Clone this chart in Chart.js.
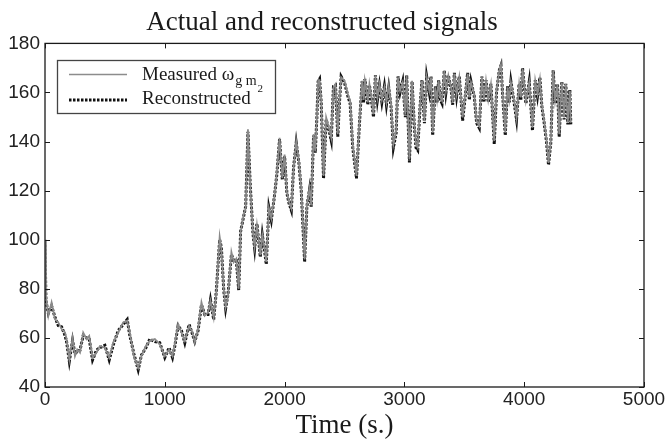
<!DOCTYPE html>
<html>
<head>
<meta charset="utf-8">
<script src="https://cdn.jsdelivr.net/npm/chart.js@4.4.1/dist/chart.umd.min.js"></script>
<style>
  html, body { margin: 0; padding: 0; background: #fff; }
  #plot { display: block; }
</style>
</head>
<body>
<canvas id="plot" width="669" height="439"></canvas>
<script>
// time axis (s.)
let timeSec = [
  0, 8, 28, 55, 83, 111, 139, 167, 180, 203,
  230, 250, 269, 292, 319, 347, 369, 397, 430, 458,
  500, 536, 569, 611, 653, 686, 708, 742, 778, 805,
  842, 875, 917, 958, 1000, 1036, 1064, 1083, 1111, 1139,
  1167, 1203, 1231, 1250, 1278, 1306, 1333, 1361, 1381, 1408,
  1430, 1458, 1472, 1492, 1508, 1528, 1556, 1575, 1597, 1617,
  1633, 1658, 1675, 1694, 1714, 1736, 1750, 1769, 1786, 1797,
  1814, 1833, 1847, 1869, 1889, 1917, 1936, 1958, 1981, 2000,
  2019, 2036, 2056, 2075, 2097, 2119, 2139, 2167, 2186, 2208,
  2222, 2242, 2256, 2270, 2280, 2292, 2306, 2325, 2347, 2369,
  2389, 2408, 2425, 2444, 2458, 2472, 2500, 2528, 2547, 2569,
  2600, 2625, 2647, 2660, 2670, 2681, 2695, 2708, 2725, 2742,
  2758, 2775, 2792, 2812, 2833, 2850, 2869, 2889, 2908, 2931,
  2947, 2964, 2986, 3008, 3019, 3042, 3064, 3083, 3097, 3111,
  3131, 3147, 3167, 3186, 3208, 3222, 3236, 3258, 3272, 3286,
  3300, 3314, 3333, 3347, 3367, 3389, 3403, 3417, 3436, 3458,
  3486, 3508, 3528, 3542, 3556, 3583, 3603, 3625, 3647, 3664,
  3681, 3700, 3722, 3750, 3769, 3792, 3806, 3819, 3842, 3861,
  3875, 3889, 3917, 3936, 3958, 3972, 3986, 4014, 4042, 4069,
  4092, 4111, 4131, 4147, 4167, 4186, 4203, 4222, 4242, 4258,
  4278, 4292, 4314, 4333, 4347, 4364, 4381, 4389
];

let measured = [
  100, 77, 69, 74.5, 67.7, 66.3, 63.6, 62.2, 59.5, 51.2,
  60.1, 52.6, 55.3, 54, 62.2, 59.5, 60.8, 51.9, 54, 56.7,
  56, 51.9, 58.1, 62.2, 66.3, 67, 62.2, 52.6, 47.8, 52.6,
  56.7, 58.8, 59.5, 57.4, 52.6, 55.3, 52.6, 57.4, 65.6, 62.2,
  58.8, 64.9, 62.2, 58.1, 63.6, 74.5, 69, 70.4, 75.2, 68.3,
  78.6, 101.2, 96.4, 80, 72.5, 77.2, 95, 90.9, 92.3, 80,
  103.2, 110.1, 112.8, 145, 121, 103.2, 97.1, 106, 99.1, 93.7,
  101.9, 96.4, 90.9, 112.8, 108.7, 118.3, 127.9, 141.5, 125.1, 134.7,
  119.6, 115.5, 112.8, 129.2, 140.2, 132, 121, 92, 114, 121,
  114, 143, 136, 150, 165, 165, 156.6, 126, 149.8, 145.7,
  141.6, 162.1, 163.4, 143, 156.6, 166.2, 164.8, 159.3, 156.6, 138.8,
  126, 148.4, 164.8, 157, 165, 162.1, 156, 163.4, 158, 151.1,
  166.9, 158, 163.4, 157, 162.1, 156, 162.8, 155.2, 138.8, 144.3,
  166.2, 160.7, 164.1, 151.1, 166.9, 132.7, 164.8, 147, 138.8, 137.5,
  155.2, 164.8, 148.4, 166.2, 160.7, 166.2, 143.6, 162.1, 157, 164.8,
  158, 156.6, 168.9, 160.7, 166.9, 162.1, 156, 167.6, 159.3, 166.2,
  149.8, 159.3, 167.6, 158, 164.1, 159.3, 148.4, 146.4, 166.2, 157,
  164.8, 157, 163.4, 140.2, 160.7, 168.9, 171.4, 160.7, 143.6, 162.1,
  157, 164.1, 156.6, 149.8, 163.4, 158, 169.6, 156.6, 164.1, 145.7,
  164.8, 159.3, 165.5, 155.2, 148.4, 140.9, 131.3, 140.2, 168.9, 156.6,
  163.4, 143, 164.1, 149.8, 163.4, 147.7, 160.7, 147.7
];

let reconstructed = [
  98, 75, 70, 73, 68.5, 65, 64.5, 61, 58.5, 50.5,
  59, 53.5, 54.5, 55, 61, 60, 59.5, 51, 55, 56,
  57, 51, 57, 63, 65.5, 67.5, 61, 53.5, 47, 53,
  56, 59.5, 58.5, 58, 52, 56, 52, 56.5, 65, 63,
  58, 65.5, 61.5, 58.5, 63, 73.5, 69.5, 69.5, 75.5, 67.5,
  79, 100, 97, 79.5, 72, 78, 94, 91.5, 91.5, 79.5,
  103.5, 109.5, 113.5, 144, 121.5, 102.5, 96.5, 106.5, 98.5, 93,
  102, 95.5, 90, 113, 108, 118.5, 127, 141, 124.5, 134,
  119, 115, 112, 129.5, 139.5, 131.5, 120, 91, 113.5, 120.5,
  113.5, 142.5, 135.5, 150.5, 164.5, 165.5, 155.5, 125, 149, 145,
  140.5, 162.5, 163, 142, 156, 166.5, 164, 158.5, 155.5, 137.5,
  125, 147.5, 164.5, 156, 165.5, 161.5, 155, 163, 157, 150,
  167, 157, 163, 156, 162.5, 155, 162, 154, 137.5, 143.5,
  166.5, 160, 164.5, 150, 167, 131.5, 164.5, 146, 137.5, 136.5,
  154.5, 165, 147.5, 166.5, 160, 166.5, 142.5, 162.5, 156, 165,
  157, 155.5, 169, 160, 167, 161.5, 155, 168, 158.5, 166.5,
  148.5, 158.5, 168, 157, 164.5, 158.5, 147.5, 145.5, 166.5, 156,
  165, 156, 163.5, 139, 160, 169, 171, 160, 142.5, 162.5,
  156, 164.5, 155.5, 149, 163.5, 157, 170, 155.5, 164.5, 144.5,
  165, 158.5, 166, 154.5, 147.5, 140, 130.5, 139.5, 169, 155.5,
  163.5, 142, 164.5, 149, 163.5, 147, 161, 147
];

let xTicks = [0, 1000, 2000, 3000, 4000, 5000];
let yTicks = [40, 60, 80, 100, 120, 140, 160, 180];

function toPoints(values) {
  return timeSec.map((t, i) => ({ x: t, y: values[i] }));
}

// box round the plot plus inward tick marks on all four sides
const frame = {
  id: "frame",
  afterDraw(chart) {
    const { ctx, chartArea: a, scales } = chart;
    ctx.save();
    ctx.strokeStyle = "#1a1a1a";
    ctx.lineWidth = 1.3;
    ctx.strokeRect(a.left, a.top, a.right - a.left, a.bottom - a.top);
    ctx.lineWidth = 1;
    ctx.beginPath();
    xTicks.forEach((v) => {
      const px = Math.round(scales.x.getPixelForValue(v)) + 0.5;
      ctx.moveTo(px, a.bottom); ctx.lineTo(px, a.bottom - 5);
      ctx.moveTo(px, a.top); ctx.lineTo(px, a.top + 5);
    });
    yTicks.forEach((v) => {
      const py = Math.round(scales.y.getPixelForValue(v)) + 0.5;
      ctx.moveTo(a.left, py); ctx.lineTo(a.left + 5, py);
      ctx.moveTo(a.right, py); ctx.lineTo(a.right - 5, py);
    });
    ctx.stroke();
    ctx.restore();
  },
};

// legend box with the subscripted omega label
const legendBox = {
  id: "legendBox",
  afterDraw(chart) {
    const ctx = chart.ctx;
    ctx.save();
    ctx.fillStyle = "#fff";
    ctx.fillRect(57, 60, 218, 53);
    ctx.strokeStyle = "#444";
    ctx.lineWidth = 1.3;
    ctx.strokeRect(57.5, 60.5, 218, 53);

    ctx.strokeStyle = "#8c8c8c";
    ctx.lineWidth = 1.6;
    ctx.beginPath(); ctx.moveTo(69, 74.5); ctx.lineTo(127, 74.5); ctx.stroke();

    ctx.strokeStyle = "#111";
    ctx.lineWidth = 2.8;
    ctx.setLineDash([2.5, 1.5]);
    ctx.beginPath(); ctx.moveTo(69, 100); ctx.lineTo(127, 100); ctx.stroke();
    ctx.setLineDash([]);

    ctx.fillStyle = "#1a1a1a";
    ctx.textBaseline = "alphabetic";
    ctx.font = '19px "Liberation Serif"';
    ctx.fillText("Measured \u03c9", 142, 80);
    let x = 142 + ctx.measureText("Measured \u03c9").width + 1;
    ctx.font = '14px "Liberation Serif"';
    ctx.fillText("g m", x, 85);
    x += ctx.measureText("g m").width + 1;
    ctx.font = '11px "Liberation Serif"';
    ctx.fillText("2", x, 92);

    ctx.font = '19px "Liberation Serif"';
    ctx.fillText("Reconstructed", 142, 104);
    ctx.restore();
  },
};

new Chart(document.getElementById("plot"), {
  type: "line",
  data: {
    datasets: [
      {
        label: "Measured",
        data: toPoints(measured),
        borderColor: "#8a8a8a",
        borderWidth: 1.8,
        pointRadius: 0,
        tension: 0,
      },
      {
        label: "Reconstructed",
        data: toPoints(reconstructed),
        borderColor: "#111",
        borderWidth: 3,
        borderDash: [2.5, 1.5],
        pointRadius: 0,
        tension: 0,
      },
    ],
  },
  options: {
    responsive: false,
    animation: false,
    layout: { padding: { left: 0, right: 25, top: 0, bottom: 0 } },
    plugins: {
      legend: { display: false },
      tooltip: { enabled: false },
      title: {
        display: true,
        text: "Actual and reconstructed signals",
        color: "#1a1a1a",
        font: { family: "Liberation Serif", size: 27, weight: "normal", lineHeight: 1.2 },
        padding: { top: 7, bottom: 4 },
      },
    },
    scales: {
      x: {
        type: "linear",
        min: 0,
        max: 5000,
        afterBuildTicks: (s) => { s.ticks = xTicks.map((v) => ({ value: v })); },
        ticks: {
          color: "#222",
          padding: 3,
          maxRotation: 0,
          callback: (v) => String(v),
          font: { family: "Liberation Sans", size: 19, lineHeight: 1 },
        },
        grid: { display: false, drawTicks: false },
        border: { display: false },
        title: {
          display: true,
          text: "Time (s.)",
          color: "#1a1a1a",
          font: { family: "Liberation Serif", size: 27, lineHeight: 1 },
          padding: { top: 0, bottom: 0 },
        },
      },
      y: {
        min: 40,
        max: 180,
        afterBuildTicks: (s) => { s.ticks = yTicks.map((v) => ({ value: v })); },
        afterFit: (s) => { s.width = 45; },
        ticks: {
          color: "#222",
          padding: 5,
          font: { family: "Liberation Sans", size: 19, lineHeight: 1 },
        },
        grid: { display: false, drawTicks: false },
        border: { display: false },
      },
    },
  },
  plugins: [frame, legendBox],
});
</script>
</body>
</html>
